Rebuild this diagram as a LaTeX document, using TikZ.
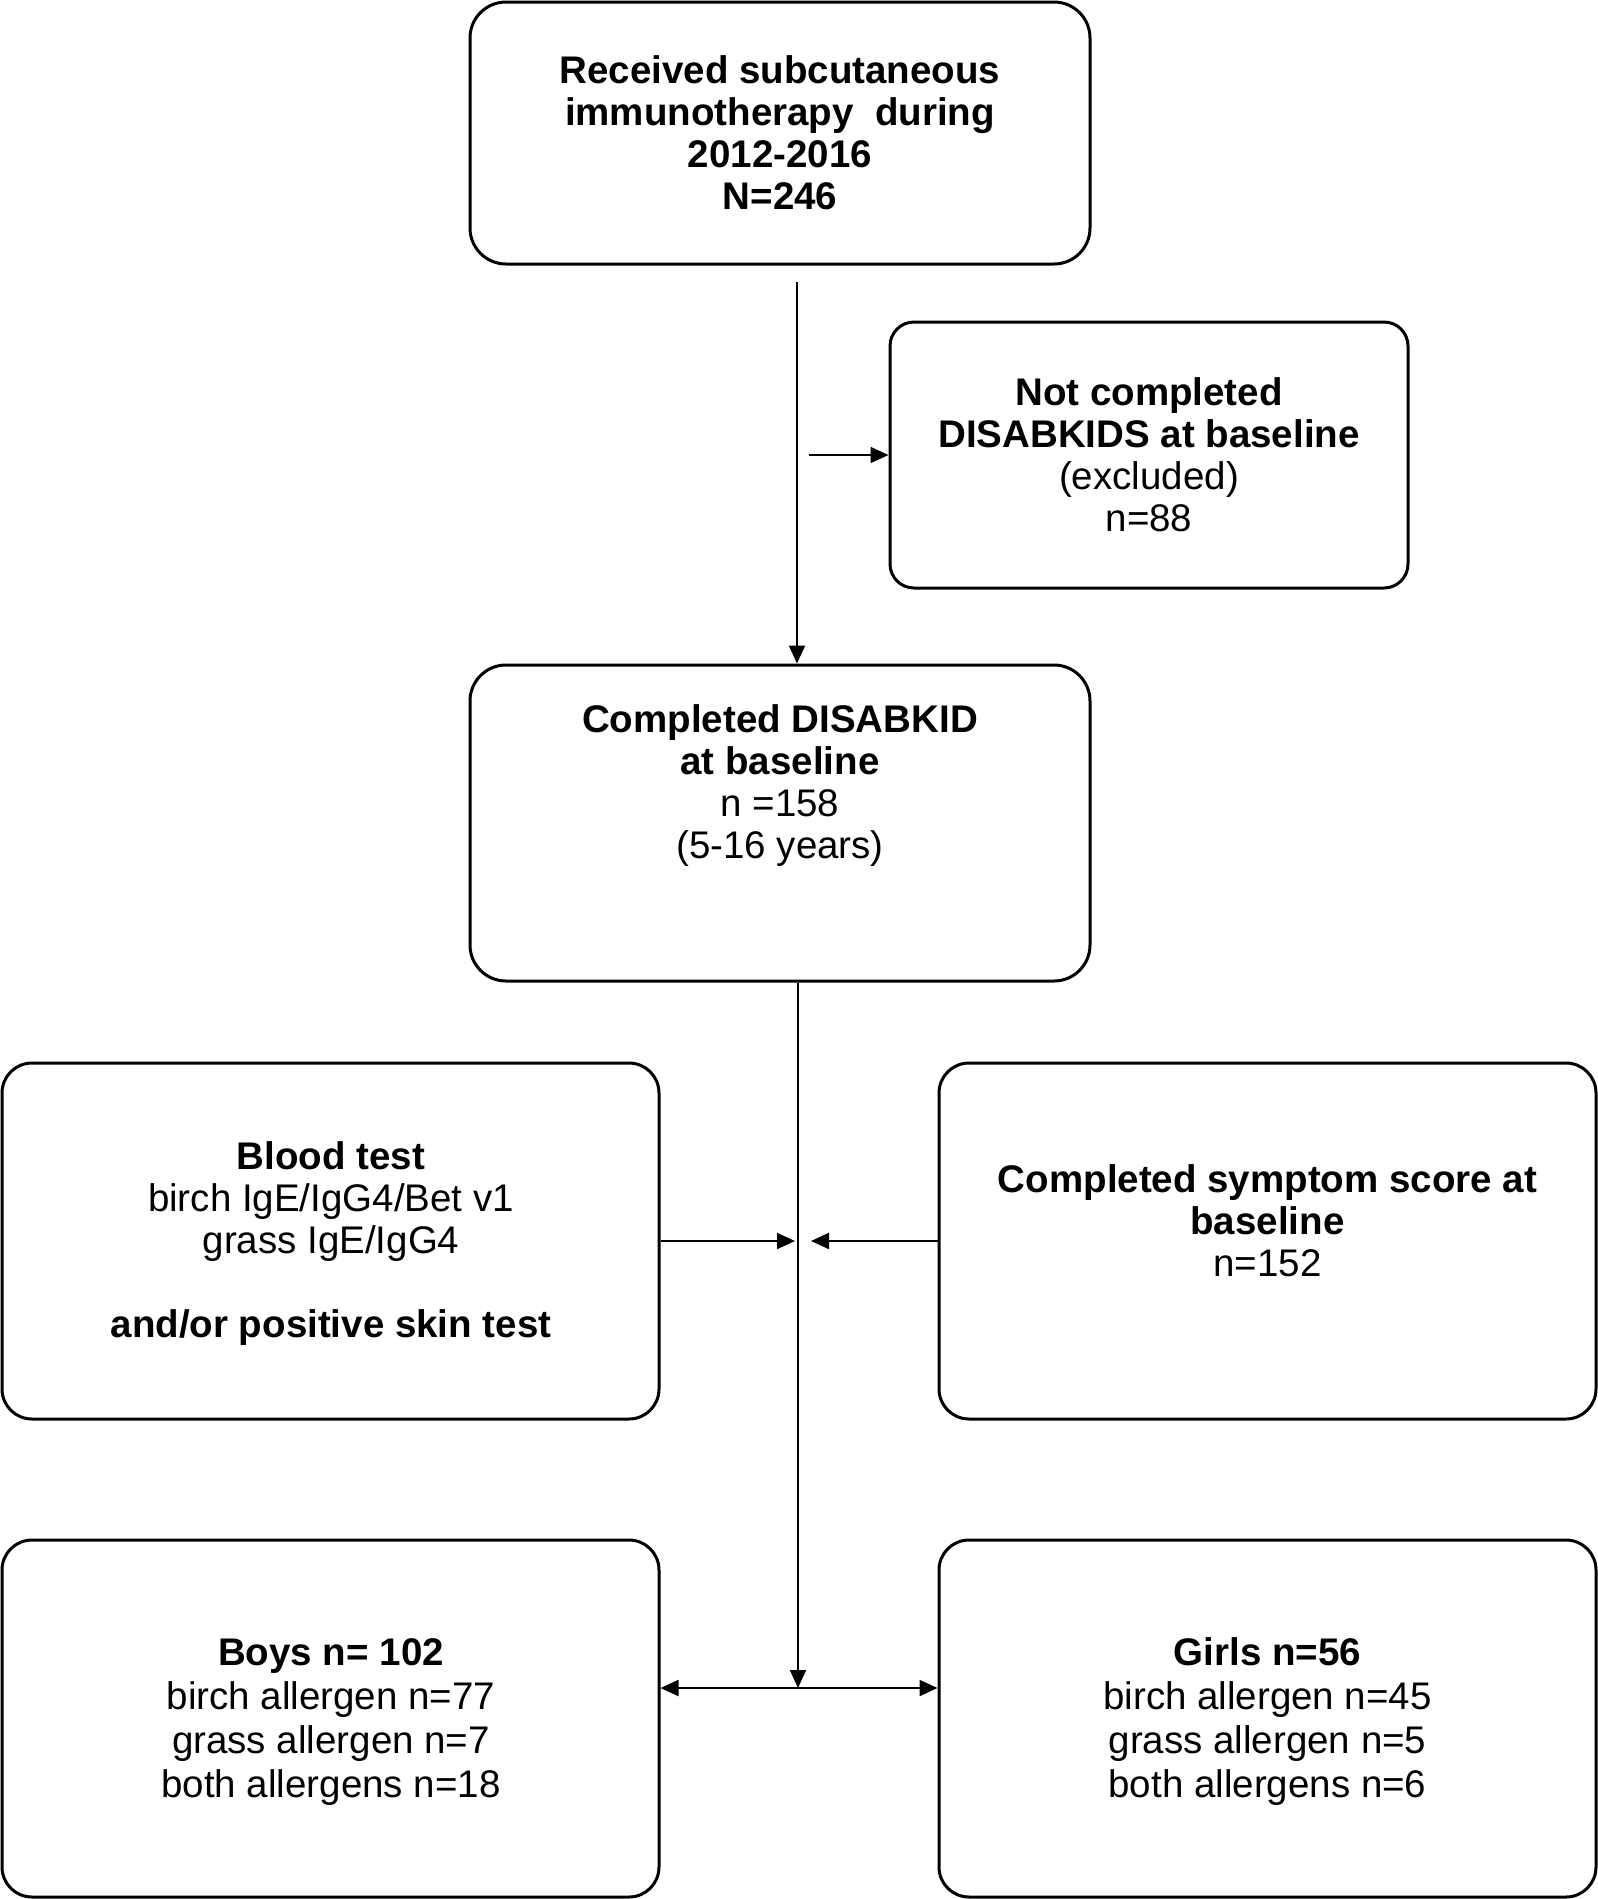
\documentclass[tikz,border=0pt]{standalone}
\usepackage{fontspec}
\setmainfont{Liberation Sans}
\usetikzlibrary{arrows.meta}
\begin{document}
\begin{tikzpicture}[x=1pt,y=-1pt,
  box/.style={draw=black, line width=3pt, rounded corners=#1, inner sep=0pt},
  box/.default=30pt,
  txt/.style={align=center, font=\fontsize{38.5}{42}\selectfont, inner sep=0pt},
  txtb/.style={align=center, font=\fontsize{38.5}{44}\selectfont, inner sep=0pt},
  conn/.style={draw=black, line width=2pt},
  tip/.style={-{Triangle[length=18pt,width=16pt]}}
]
\useasboundingbox (0,0) rectangle (1598,1899);
% boxes
\node[box=36pt, minimum width=620pt, minimum height=262pt] (top) at (780,133) {};
\node[box=24pt, minimum width=518pt, minimum height=266pt] (excl) at (1149,455) {};
\node[box=36pt, minimum width=620pt, minimum height=316pt] (comp) at (780,823) {};
\node[box, minimum width=657pt, minimum height=356pt] (blood) at (330.5,1241) {};
\node[box, minimum width=657pt, minimum height=356pt] (symp) at (1267.5,1241) {};
\node[box, minimum width=657pt, minimum height=357pt] (boys) at (330.5,1718.5) {};
\node[box, minimum width=657pt, minimum height=357pt] (girls) at (1267.5,1718.5) {};
% texts
\node[txt] (toptxt) at (top.center) {\bfseries Received subcutaneous\\\bfseries immunotherapy\ \ during\\\bfseries 2012-2016\\\bfseries N=246};
\node[txt] (excltxt) at (excl.center) {\bfseries Not completed\\\bfseries DISABKIDS at baseline\\(excluded)\\n=88};
\node[txt] (comptxt) at (780,786) {\bfseries Completed DISABKID\\\bfseries at baseline\\n =158\\(5-16 years)};
\node[txt] (bloodtxt) at (331,1244) {\bfseries Blood test\\birch IgE/IgG4/Bet v1\\grass IgE/IgG4\\[42pt]\bfseries and/or positive skin test};
\node[txt] (symptxt) at (1267.5,1221) {\bfseries Completed symptom score at\\\bfseries baseline\\n=152};
\node[txtb] (boystxt) at (331,1722) {\bfseries Boys n= 102\\birch allergen n=77\\grass allergen n=7\\both allergens n=18};
\node[txtb] (girlstxt) at (1267.5,1722) {\bfseries Girls n=56\\birch allergen n=45\\grass allergen n=5\\both allergens n=6};
% connectors
\coordinate (s1) at (797,282);
\coordinate (e1) at (809,455);
\coordinate (bl) at (795,1241);
\coordinate (br) at (811,1241);
\coordinate (j) at (798,1688);
\draw[conn, tip] (s1) -- (s1 |- comp.north);
\draw[conn, tip] (e1) -- (excl.west);
\draw[conn, tip] (comp.south -| j) -- (j);
\draw[conn, tip] (blood.east) -- (bl);
\draw[conn, tip] (symp.west) -- (br);
\draw[conn, {Triangle[length=18pt,width=16pt]}-{Triangle[length=18pt,width=16pt]}] (boys.east |- j) -- (girls.west |- j);
\end{tikzpicture}
\end{document}
